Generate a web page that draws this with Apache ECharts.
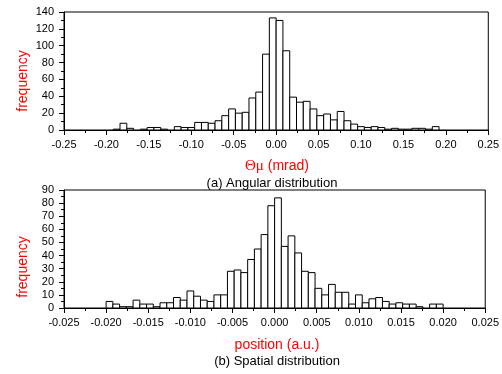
<!DOCTYPE html>
<html>
<head>
<meta charset="utf-8">
<script src="https://cdn.jsdelivr.net/npm/echarts@6/dist/echarts.min.js"></script>
<style>html,body{margin:0;padding:0;background:#fff}#c{width:502px;height:374px}</style>
</head>
<body>
<div id="c"></div>
<script>
// (a) Angular distribution: histogram bins start at -0.192, width 0.008 (mrad)
const angFirstEdge = -0.192;
const angBinWidth = 0.008;
const angCounts = [1, 8, 2, 0, 1, 3, 3, 1, 0, 4, 3, 3, 9, 9, 8, 11, 17, 25, 20, 21, 38, 45, 90, 133,
                   130, 94, 39, 33, 34, 25, 17, 19, 12, 22, 11, 7, 4, 3, 4, 3, 1, 2, 1, 1, 2, 2, 1, 4];
// (b) Spatial distribution: bins start at -0.020, width 0.0008 (a.u.)
const spaFirstEdge = -0.020;
const spaBinWidth = 0.0008;
const spaCounts = [5, 3, 1, 1, 6, 3, 3, 1, 4, 4, 8, 6, 13, 9, 6, 5, 10, 10, 28, 29, 27, 37, 45, 56, 78,
                   84, 47, 55, 42, 28, 27, 15, 10, 18, 12, 12, 3, 10, 4, 7, 8, 5, 3, 4, 3, 3, 1, 0, 3, 3];
// Axis tick settings
const angXTicks = {min: -0.25, max: 0.25, interval: 0.05, decimals: 2};
const angYTicks = {min: 0, max: 140, interval: 20};
const spaXTicks = {min: -0.025, max: 0.025, interval: 0.005, decimals: 3};
const spaYTicks = {min: 0, max: 90, interval: 10};
const labels = {
  angX: 'Θμ (mrad)', angCaption: '(a) Angular distribution',
  spaX: 'position (a.u.)', spaCaption: '(b) Spatial distribution',
  y: 'frequency'
};

function toRows(first, w, counts) {
  const rows = [];
  counts.forEach((c, i) => {
    const x0 = +(first + i * w).toFixed(6);
    rows.push([x0, +(x0 + w).toFixed(6), c]);
  });
  return rows;
}

const FONT = 'Liberation Sans, Arial, sans-serif';

function renderItem(params, api) {
  const v = api.value(2);
  if (!v) return null;
  const p0 = api.coord([api.value(0), 0]);
  const p1 = api.coord([api.value(1), v]);
  return {
    type: 'rect',
    shape: {x: p0[0], y: p1[1], width: p1[0] - p0[0], height: p0[1] - p1[1]},
    style: {fill: '#fff', stroke: '#000', lineWidth: 1}
  };
}

function xAxisDef(gi, t) {
  return {
    type: 'value', gridIndex: gi, min: t.min, max: t.max, interval: t.interval,
    axisLine: {show: true, onZero: false, lineStyle: {color: '#000', width: 1}},
    axisTick: {show: true, inside: false, length: 5, lineStyle: {color: '#000'}},
    minorTick: {show: true, splitNumber: 2, length: 3, lineStyle: {color: '#000'}},
    splitLine: {show: false},
    axisLabel: {color: '#000', fontFamily: FONT, fontSize: 11, margin: 9,
      formatter: v => v.toFixed(t.decimals)}
  };
}
function yAxisDef(gi, t) {
  return {
    type: 'value', gridIndex: gi, min: t.min, max: t.max, interval: t.interval,
    axisLine: {show: true, onZero: false, lineStyle: {color: '#000', width: 1}},
    axisTick: {show: true, inside: false, length: 5, lineStyle: {color: '#000'}},
    minorTick: {show: true, splitNumber: 2, length: 3, lineStyle: {color: '#000'}},
    splitLine: {show: false},
    axisLabel: {color: '#000', fontFamily: FONT, fontSize: 11, margin: 10}
  };
}

const chart = echarts.init(document.getElementById('c'), null, {renderer: 'canvas'});
chart.setOption({
  animation: false,
  backgroundColor: '#fff',
  grid: [
    {left: 64, top: 12, width: 425, height: 118, show: true, borderColor: '#000', borderWidth: 1, backgroundColor: 'transparent'},
    {left: 64, top: 190, width: 425, height: 118, show: true, borderColor: '#000', borderWidth: 1, backgroundColor: 'transparent'}
  ],
  xAxis: [xAxisDef(0, angXTicks), xAxisDef(1, spaXTicks)],
  yAxis: [yAxisDef(0, angYTicks), yAxisDef(1, spaYTicks)],
  series: [
    {type: 'custom', xAxisIndex: 0, yAxisIndex: 0, renderItem, encode: {x: [0, 1], y: 2},
     data: toRows(angFirstEdge, angBinWidth, angCounts)},
    {type: 'custom', xAxisIndex: 1, yAxisIndex: 1, renderItem, encode: {x: [0, 1], y: 2},
     data: toRows(spaFirstEdge, spaBinWidth, spaCounts)}
  ],
  graphic: [
    {type: 'text', x: 277, y: 166.5, style: {text: '{g|Θμ} (mrad)', fill: '#ff0000', font: '14px ' + FONT,
      align: 'center', verticalAlign: 'middle',
      rich: {g: {fontFamily: 'Liberation Serif, serif', fontSize: 15, fill: '#ff0000'}}}},
    {type: 'text', x: 272, y: 183, style: {text: labels.angCaption, fill: '#000', font: '13px ' + FONT,
      align: 'center', verticalAlign: 'middle'}},
    {type: 'text', x: 277, y: 345, style: {text: labels.spaX, fill: '#ff0000', font: '14px ' + FONT,
      align: 'center', verticalAlign: 'middle'}},
    {type: 'text', x: 277, y: 361.5, style: {text: labels.spaCaption, fill: '#000', font: '13px ' + FONT,
      align: 'center', verticalAlign: 'middle'}},
    {type: 'text', x: 23, y: 81, rotation: Math.PI / 2, style: {text: labels.y, fill: '#ff0000', font: '14px ' + FONT,
      align: 'center', verticalAlign: 'middle'}},
    {type: 'text', x: 23, y: 267, rotation: Math.PI / 2, style: {text: labels.y, fill: '#ff0000', font: '14px ' + FONT,
      align: 'center', verticalAlign: 'middle'}}
  ]
});
</script>
</body>
</html>
